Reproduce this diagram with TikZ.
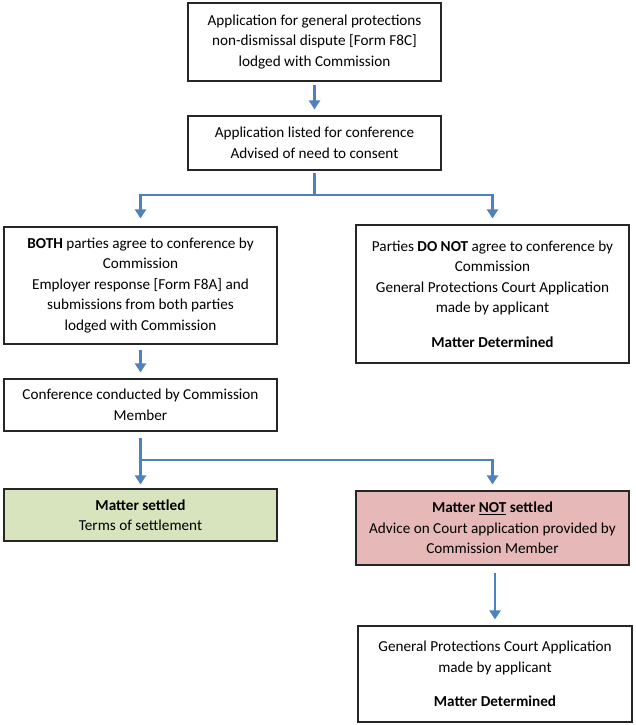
\documentclass[tikz,border=0pt]{standalone}
\usepackage{fontspec}
\setmainfont{Carlito}
\usetikzlibrary{arrows.meta}

\definecolor{flowblue}{HTML}{4F81BD}
\definecolor{settledgreen}{HTML}{D7E4BD}
\definecolor{notsettledred}{HTML}{E6B9B8}

\begin{document}
\begin{tikzpicture}[
  x=1pt, y=-1pt,
  stage/.style={rectangle, draw=black!85, line width=1.2pt, fill=white,
                align=center, inner sep=2pt,
                font=\fontsize{15.2}{20.5}\selectfont},
  flow/.style={-{Triangle[width=11pt,length=9pt]}, draw=flowblue,
               line width=2.8pt, shorten >=6pt},
  flowline/.style={draw=flowblue, line width=2.8pt}
]
\useasboundingbox (0,0) rectangle (635,725);

\node[stage, minimum width=253pt, minimum height=78pt] (application) at (314.5,42)
  {Application for general protections\\ non-dismissal dispute [Form F8C]\\ lodged with Commission};
\node[stage, minimum width=253pt, minimum height=54pt] (listed) at (314.5,143)
  {Application listed for conference\\ Advised of need to consent};
\node[stage, minimum width=273pt, minimum height=117pt] (agree) at (140.5,285.5)
  {\textbf{BOTH} parties agree to conference by\\ Commission\\ Employer response [Form F8A] and\\
   submissions from both parties\\ lodged with Commission};
\node[stage, minimum width=273pt, minimum height=138pt] (disagree) at (492.5,294)
  {Parties \textbf{DO NOT} agree to conference by\\ Commission\\ General Protections Court Application\\
   made by applicant\\[14pt] \textbf{Matter Determined}};
\node[stage, minimum width=273pt, minimum height=52pt] (conference) at (140.5,405)
  {Conference conducted by Commission\\ Member};
\node[stage, fill=settledgreen, minimum width=273pt, minimum height=52pt] (settled) at (140.5,515)
  {\textbf{Matter settled}\\ Terms of settlement};
\node[stage, fill=notsettledred, minimum width=273pt, minimum height=74pt] (notsettled) at (492.5,528)
  {\textbf{Matter \underline{NOT} settled}\\ Advice on Court application provided by\\ Commission Member};
\node[stage, minimum width=274pt, minimum height=96pt] (court) at (495,674)
  {General Protections Court Application\\ made by applicant\\[14pt] \textbf{Matter Determined}};

\coordinate (split1) at (314.5,195);
\coordinate (split2) at (140.5,460);

\draw[flow, shorten <=3pt] (application.south) -- (listed.south |- listed.north);
\draw[flowline, shorten <=2pt] (listed.south) -- (split1);
\draw[flow, shorten >=8pt] (split1) -| (agree.north);
\draw[flow] (split1) -| (disagree.north);
\draw[flow, shorten <=5pt] (agree.south) -- (conference.north);
\draw[flowline, shorten <=6pt] (conference.south) -- (split2);
\draw[flow, shorten >=4pt] (split2) -- (settled.north);
\draw[flow] (split2) -| (notsettled.north);
\draw[flow, shorten <=7pt] (notsettled.south -| court.north) -- (court.north);
\end{tikzpicture}
\end{document}
